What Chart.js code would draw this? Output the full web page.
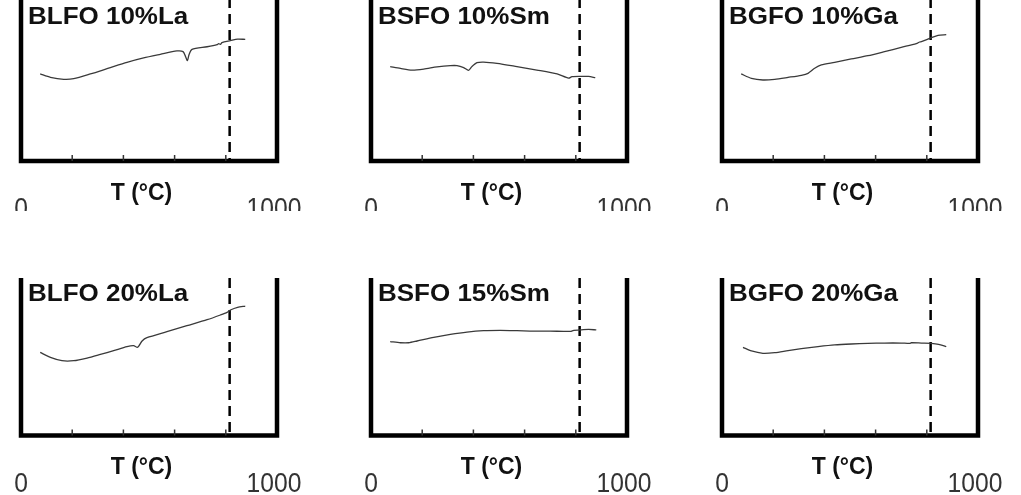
<!DOCTYPE html>
<html>
<head>
<meta charset="utf-8">
<script src="https://cdn.jsdelivr.net/npm/chart.js@4.4.1/dist/chart.umd.min.js"></script>
<style>
  html, body { margin: 0; padding: 0; background: #fff; }
  body { position: relative; width: 1021px; height: 495px; overflow: hidden; }
  canvas { position: absolute; }
</style>
</head>
<body>
<canvas id="c0"></canvas>
<canvas id="c1"></canvas>
<canvas id="c2"></canvas>
<canvas id="c3"></canvas>
<canvas id="c4"></canvas>
<canvas id="c5"></canvas>
<script>
// x axis: temperature (°C); y axis: arbitrary units, no scale shown
const tickTemps = [200, 400, 600, 800];
const edgeLabels = ["0", "1000"];
const transitionT = 815;
const axisTitle = "T (°C)";
const panelNames = ["BLFO 10%La", "BSFO 10%Sm", "BGFO 10%Ga", "BLFO 20%La", "BSFO 15%Sm", "BGFO 20%Ga"];

const tBLFO10 = [75, 115, 167, 206, 271, 349, 414, 479, 544, 609, 633, 643, 650, 656, 668, 727, 766, 772, 779, 785, 818, 846, 876];
const yBLFO10 = [53.4, 51.3, 50.1, 50.5, 53.4, 57.3, 60.5, 63.2, 65.4, 67.5, 67.1, 64.0, 61.6, 65.0, 68.5, 70.1, 71.4, 72.0, 71.6, 72.6, 73.8, 74.8, 74.6];

const tBSFO10 = [75, 115, 160, 206, 258, 310, 336, 362, 381, 394, 414, 440, 492, 570, 648, 727, 772, 785, 818, 850, 876];
const yBSFO10 = [57.9, 56.8, 55.8, 56.4, 57.7, 58.5, 58.5, 57.3, 55.6, 57.9, 60.3, 60.7, 59.9, 57.9, 55.8, 53.4, 50.8, 51.7, 51.9, 51.9, 51.1];

const tBGFO10 = [75, 115, 160, 206, 258, 310, 336, 362, 388, 440, 505, 570, 635, 700, 759, 772, 779, 818, 844, 876];
const yBGFO10 = [53.4, 50.7, 49.7, 50.1, 51.3, 52.6, 53.8, 56.9, 58.9, 60.5, 62.6, 64.6, 67.1, 69.7, 72.0, 73.0, 73.2, 75.7, 77.1, 77.5];

const tBLFO20 = [75, 115, 160, 206, 258, 310, 362, 414, 440, 453, 460, 473, 492, 570, 648, 727, 779, 805, 818, 846, 876];
const yBLFO20 = [52.8, 49.6, 47.5, 47.5, 49.2, 51.5, 53.9, 56.4, 57.0, 56.0, 56.8, 60.0, 62.1, 65.9, 69.7, 73.5, 76.5, 78.2, 79.7, 81.4, 82.2];

const tBSFO15 = [75, 115, 147, 180, 245, 310, 375, 440, 505, 570, 635, 700, 779, 792, 818, 850, 880];
const yBSFO15 = [59.6, 58.9, 58.9, 60.0, 62.3, 64.2, 65.7, 66.6, 66.8, 66.6, 66.3, 66.3, 66.1, 66.8, 67.0, 67.4, 67.0];

const tBGFO20 = [82, 115, 160, 206, 258, 310, 375, 440, 505, 570, 635, 700, 733, 740, 779, 818, 846, 876];
const yBGFO20 = [56.0, 53.7, 52.2, 52.6, 53.9, 55.1, 56.4, 57.5, 58.1, 58.5, 58.7, 58.7, 58.5, 58.9, 58.7, 58.5, 57.9, 56.4];

const panelSeries = [
  [tBLFO10, yBLFO10], [tBSFO10, yBSFO10], [tBGFO10, yBGFO10],
  [tBLFO20, yBLFO20], [tBSFO15, yBSFO15], [tBGFO20, yBGFO20]
];

// page layout of the 2 x 3 grid
const colLeft = [0, 350, 701];
const rowBox = [
  { top: -6, height: 217, padTop: 4, padBottom: 50, labelTop: 9 },
  { top: 272, height: 223, padTop: 6, padBottom: 59.5, labelTop: 6 }
];

function stretchText(ctx, str, x, y, sx, align) {
  ctx.save();
  ctx.translate(x, y);
  ctx.scale(sx, 1);
  ctx.textAlign = align;
  ctx.fillText(str, 0, 0);
  ctx.restore();
}

const panelDecor = {
  id: "panelDecor",
  afterDatasetsDraw(chart, args, opts) {
    const { ctx, chartArea: a } = chart;
    const x = chart.scales.x;
    ctx.save();
    // frame: left, bottom, right
    ctx.strokeStyle = "#000";
    ctx.lineWidth = 4.5;
    ctx.lineJoin = "miter";
    ctx.beginPath();
    ctx.moveTo(a.left, a.top);
    ctx.lineTo(a.left, a.bottom);
    ctx.lineTo(a.right, a.bottom);
    ctx.lineTo(a.right, a.top);
    ctx.stroke();
    // small inward ticks
    ctx.strokeStyle = "#333";
    ctx.lineWidth = 1.5;
    tickTemps.forEach(t => {
      const px = x.getPixelForValue(t);
      ctx.beginPath();
      ctx.moveTo(px, a.bottom - 6);
      ctx.lineTo(px, a.bottom);
      ctx.stroke();
    });
    // texts
    ctx.fillStyle = "#111";
    ctx.textBaseline = "alphabetic";
    ctx.font = 'bold 23px "Liberation Sans", Arial, sans-serif';
    stretchText(ctx, opts.name, a.left + 7, a.top + opts.labelTop + 16.5, 1.13, "left");
    stretchText(ctx, axisTitle, a.left + 120.5, a.bottom + 38.5, 1.0, "center");
    ctx.fillStyle = "#333";
    ctx.font = '28px "Liberation Sans", Arial, sans-serif';
    stretchText(ctx, edgeLabels[0], x.getPixelForValue(0), a.bottom + 56, 0.88, "center");
    stretchText(ctx, edgeLabels[1], x.getPixelForValue(1000) - 3, a.bottom + 56, 0.88, "center");
    ctx.restore();
  }
};

panelSeries.forEach(([temps, vals], i) => {
  const row = rowBox[Math.floor(i / 3)];
  const canvas = document.getElementById("c" + i);
  canvas.width = 350;
  canvas.height = row.height;
  canvas.style.left = colLeft[i % 3] + "px";
  canvas.style.top = row.top + "px";

  new Chart(canvas, {
    type: "line",
    data: {
      datasets: [
        {
          data: temps.map((t, k) => ({ x: t, y: vals[k] })),
          borderColor: "#3a3a3a",
          borderWidth: 1.3,
          pointRadius: 0,
          tension: 0.25,
          fill: false
        },
        {
          data: [{ x: transitionT, y: 100 }, { x: transitionT, y: 0 }],
          borderColor: "#000",
          borderWidth: 2.5,
          borderDash: [10, 6],
          pointRadius: 0,
          fill: false
        }
      ]
    },
    options: {
      responsive: false,
      animation: false,
      devicePixelRatio: 1,
      layout: { padding: { left: 21, right: 73, top: row.padTop, bottom: row.padBottom } },
      plugins: {
        legend: { display: false },
        tooltip: { enabled: false },
        panelDecor: { name: panelNames[i], labelTop: row.labelTop }
      },
      scales: {
        x: { type: "linear", min: 0, max: 1000, display: false },
        y: { type: "linear", min: 0, max: 100, display: false }
      }
    },
    plugins: [panelDecor]
  });
});
</script>
</body>
</html>
